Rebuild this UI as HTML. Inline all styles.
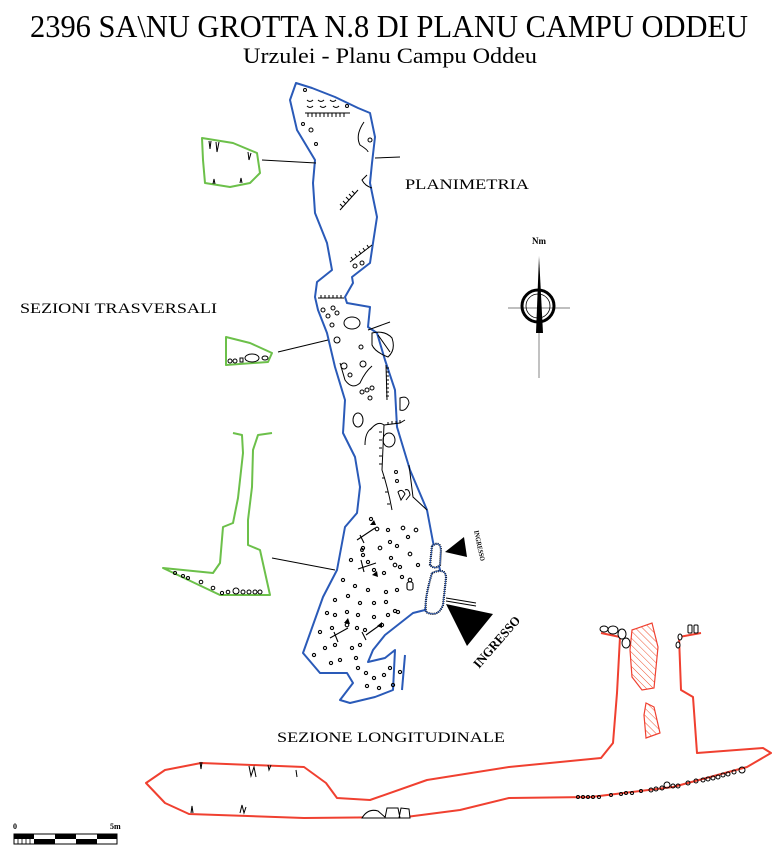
<!DOCTYPE html>
<html><head><meta charset="utf-8"><style>
html,body{margin:0;padding:0;background:#fff;}
svg{display:block;}
text{font-family:"Liberation Serif",serif;fill:#000;}
</style></head><body>
<svg width="784" height="858" viewBox="0 0 784 858" xmlns="http://www.w3.org/2000/svg">
<defs>
<pattern id="hatch" width="5" height="5" patternUnits="userSpaceOnUse" patternTransform="rotate(-45)">
<line x1="0" y1="0" x2="0" y2="5" stroke="#e53" stroke-width="1"/>
</pattern>
</defs>
<text x="30" y="37" font-size="32" textLength="718" lengthAdjust="spacingAndGlyphs">2396 SA\NU GROTTA N.8 DI PLANU CAMPU ODDEU</text>
<text x="243" y="63" font-size="22" textLength="294" lengthAdjust="spacingAndGlyphs">Urzulei - Planu Campu Oddeu</text>
<text x="405" y="189" font-size="15" textLength="124" lengthAdjust="spacingAndGlyphs">PLANIMETRIA</text>
<text x="20" y="313" font-size="15" textLength="197" lengthAdjust="spacingAndGlyphs">SEZIONI TRASVERSALI</text>
<text x="277" y="742" font-size="15" textLength="228" lengthAdjust="spacingAndGlyphs">SEZIONE LONGITUDINALE</text>

<path d="M296,83 L312,88 L335,97 L358,108 L370,113 L375,137 L372,163 L370,183 L377,217 L373,243 L370,263 L352,277 L353,283 L345,297 L347,303 L370,307 L368,327 L377,333 L385,360 L395,390 L397,427 L410,470 L427,510 L433,542 L440,570 L433,580 L425,610 L413,613 L385,635 L373,650 L368,662 L385,658 L395,650 L393,690 L375,697 L350,703 L340,700 L353,683 L347,673 L320,673 L303,653 L323,597 L337,570 L345,527 L357,513 L360,487 L355,457 L343,433 L345,400 L335,367 L327,333 L318,310 L315,297 L317,282 L332,270 L327,243 L315,213 L313,183 L315,160 L297,130 L290,100 Z" fill="none" stroke="#2a5ab8" stroke-width="2" stroke-linejoin="round"/>
<path d="M405,655 L402,690" stroke="#2a5ab8" stroke-width="2" fill="none"/>
<g fill="none" stroke="#000" stroke-width="1">
<path d="M305,113 L350,113"/><path d="M308,113 v4 M312,113 v4 M316,113 v4 M320,113 v4 M324,113 v4 M328,113 v4 M332,113 v4 M336,113 v4 M340,113 v4 M344,113 v4"/>
<path d="M307,100 q3,3 6,0 M318,100 q3,3 6,0 M330,100 q3,3 6,0 M307,106 q3,3 6,0 M320,106 q3,3 6,0 M333,106 q3,3 6,0"/>
<circle cx="305" cy="90" r="1.5"/><circle cx="303" cy="124" r="1.5"/><circle cx="311" cy="130" r="2"/><circle cx="316" cy="144" r="1.5"/><circle cx="347" cy="106" r="1.5"/>
<path d="M364,122 Q355,135 360,145 Q368,150 368,152"/><circle cx="370" cy="140" r="2"/>
<path d="M367,175 L362,180 Q365,186 372,188"/>
<path d="M340,210 L358,190"/><path d="M343,207 l-3,-3 M346,204 l-3,-3 M349,200 l-3,-3 M352,197 l-3,-3 M355,194 l-3,-3"/>
<path d="M350,262 L372,245"/><path d="M353,260 l-2,-3 M357,257 l-2,-3 M361,254 l-2,-3 M365,251 l-2,-3 M369,248 l-2,-3"/>
<circle cx="355" cy="266" r="2"/><circle cx="362" cy="263" r="2"/>
<path d="M318,298 L344,298"/><path d="M321,298 v-3 M325,298 v-3 M329,298 v-3 M333,298 v-3 M337,298 v-3 M341,298 v-3"/>
<ellipse cx="352" cy="323" rx="8" ry="6"/><circle cx="323" cy="310" r="2"/><circle cx="333" cy="308" r="2"/><circle cx="337" cy="313" r="2"/><circle cx="328" cy="316" r="2"/><circle cx="332" cy="325" r="2"/><circle cx="337" cy="340" r="3"/><circle cx="361" cy="347" r="2"/>
<path d="M372,333 Q385,330 392,338 Q396,350 388,357 Q375,352 372,345 Z M378,335 L390,352"/>
<path d="M340,363 L345,380 Q352,390 360,383 Q365,372 372,366"/><circle cx="344" cy="366" r="3"/><circle cx="363" cy="364" r="3"/>
<circle cx="350" cy="375" r="2"/><circle cx="362" cy="392" r="2"/><circle cx="367" cy="390" r="2"/><circle cx="372" cy="388" r="2"/><circle cx="370" cy="398" r="2"/>
<path d="M386,365 L387,400"/><path d="M386,368 h3 M386,372 h3 M386,376 h3 M386,380 h3 M386,384 h3 M386,388 h3 M386,392 h3 M386,396 h3"/>
<path d="M400,398 Q408,395 409,403 Q406,412 400,410 Z"/>
<ellipse cx="358" cy="420" rx="5" ry="7"/>
<path d="M370,430 Q378,420 384,425 L382,470 Q388,488 392,510"/><path d="M372,428 Q365,432 365,445"/>
<path d="M382,432 h-3 M382,440 h-3 M382,448 h-3 M382,456 h-3 M382,464 h-3 M385,478 h-3 M388,492 h-3 M390,504 h-3"/>
<path d="M384,425 L400,423 L405,420"/><path d="M388,425 v-3 M392,424 v-3 M396,424 v-3 M400,423 v-3"/>
<ellipse cx="389" cy="440" rx="6" ry="7"/>
<path d="M409,465 L413,497 L427,510"/>
<path d="M398,492 Q402,488 405,494 L401,500 Z M405,490 Q409,488 410,495 L406,500"/>
<circle cx="396" cy="472" r="1.5"/><circle cx="397" cy="481" r="1.5"/>
</g>
<g fill="none" stroke="#000" stroke-width="1.1">
<circle cx="371" cy="519" r="1.6"/><circle cx="377" cy="529" r="1.8"/><circle cx="388" cy="530" r="1.6"/><circle cx="403" cy="528" r="1.8"/><circle cx="416" cy="530" r="1.8"/><circle cx="390" cy="542" r="1.6"/><circle cx="408" cy="537" r="1.6"/><circle cx="363" cy="548" r="1.6"/><circle cx="362" cy="550" r="1.4"/><circle cx="363" cy="555" r="1.6"/><circle cx="380" cy="548" r="1.8"/><circle cx="397" cy="546" r="1.6"/><circle cx="410" cy="554" r="1.8"/><circle cx="351" cy="560" r="1.6"/><circle cx="368" cy="562" r="1.6"/><circle cx="391" cy="558" r="1.6"/><circle cx="395" cy="565" r="1.8"/><circle cx="400" cy="567" r="1.6"/><circle cx="418" cy="565" r="1.6"/><circle cx="384" cy="573" r="1.6"/><circle cx="402" cy="577" r="1.6"/><circle cx="410" cy="580" r="1.8"/><circle cx="343" cy="580" r="1.6"/><circle cx="355" cy="586" r="1.6"/><circle cx="368" cy="590" r="1.6"/><circle cx="386" cy="592" r="1.6"/><circle cx="397" cy="590" r="1.6"/><circle cx="348" cy="596" r="1.6"/><circle cx="360" cy="603" r="1.6"/><circle cx="374" cy="603" r="1.6"/><circle cx="386" cy="602" r="1.6"/><circle cx="395" cy="611" r="1.6"/><circle cx="347" cy="612" r="1.6"/><circle cx="358" cy="615" r="1.6"/><circle cx="374" cy="617" r="1.6"/><circle cx="388" cy="615" r="1.6"/><circle cx="398" cy="612" r="1.6"/><circle cx="327" cy="613" r="1.6"/><circle cx="335" cy="615" r="1.6"/><circle cx="320" cy="632" r="1.6"/><circle cx="332" cy="628" r="1.6"/><circle cx="347" cy="625" r="1.8"/><circle cx="357" cy="628" r="1.6"/><circle cx="365" cy="630" r="1.6"/><circle cx="382" cy="625" r="1.6"/><circle cx="314" cy="655" r="1.6"/><circle cx="325" cy="648" r="1.6"/><circle cx="335" cy="645" r="1.6"/><circle cx="352" cy="648" r="1.6"/><circle cx="360" cy="645" r="1.6"/><circle cx="331" cy="663" r="1.6"/><circle cx="340" cy="660" r="1.6"/><circle cx="356" cy="658" r="1.6"/><circle cx="358" cy="668" r="1.6"/><circle cx="366" cy="673" r="1.6"/><circle cx="374" cy="678" r="1.6"/><circle cx="384" cy="675" r="1.6"/><circle cx="390" cy="668" r="1.6"/><circle cx="367" cy="686" r="1.6"/><circle cx="379" cy="688" r="1.6"/><circle cx="393" cy="685" r="1.6"/><circle cx="400" cy="672" r="1.6"/><circle cx="374" cy="570" r="1.6"/><circle cx="335" cy="600" r="1.6"/>
<rect x="407" y="582" width="6" height="8" rx="2"/>
<path d="M357,540 l18,-12 M360,535 l4,8 M358,569 l18,-6 M361,560 l3,12 M330,638 l18,-10 M334,632 l4,10 M366,635 l14,-10 M362,632 l4,8"/>
</g>
<path d="M376,525 l-6,0 l4,-5 z M378,577 l-6,-2 l5,-4 z M350,624 l-6,-1 l4,-5 z M382,628 l-5,-2 l5,-4 z" fill="#000"/>
<path d="M432,546 Q440,540 441,550 L440,565 Q435,570 430,565 Z" fill="#fff" stroke="#000" stroke-width="2.2" stroke-dasharray="1 1"/>
<path d="M432,573 Q446,567 446,578 L443,605 Q438,618 426,612 Q424,600 432,573 Z" fill="#fff" stroke="#000" stroke-width="2.2" stroke-dasharray="1 1"/>
<path d="M432,546 Q440,540 441,550 L440,565 Q435,570 430,565 Z M432,573 Q446,567 446,578 L443,605 Q438,618 426,612 Q424,600 432,573 Z" fill="none" stroke="#2a5ab8" stroke-width="0.8"/>
<polygon points="445,552 464,537 467,557" fill="#000"/>
<polygon points="446,604 493,614 467,646" fill="#000"/>
<path d="M446,598 L476,603 M446,601 L476,606" stroke="#000" stroke-width="1"/>
<text x="0" y="0" font-size="7" font-weight="bold" transform="translate(474,531) rotate(78)" textLength="31" lengthAdjust="spacingAndGlyphs">INGRESSO</text>
<text x="0" y="0" font-size="13" font-weight="bold" transform="translate(479,669) rotate(-49)" textLength="64" lengthAdjust="spacingAndGlyphs">INGRESSO</text>

<g stroke="#000" stroke-width="1">
<line x1="262" y1="160" x2="316" y2="163"/><line x1="375" y1="158" x2="400" y2="157"/>
<line x1="278" y1="352" x2="328" y2="340"/><line x1="368" y1="330" x2="390" y2="322"/>
<line x1="272" y1="558" x2="335" y2="570"/>
</g>
<g fill="none" stroke="#6cc04a" stroke-width="2" stroke-linejoin="round">
<path d="M202,138 L233,143 L257,153 L260,173 L250,183 L230,187 L205,183 L203,160 Z"/>
<path d="M226,337 L250,343 L272,353 L268,362 L226,365 Z"/>
<path d="M233,433 L242,435 L243,453 L238,498 L233,523 L223,527 L220,563 L213,573 L163,568 L220,595 L270,595 L260,550 L248,545 L248,520 L252,487 L253,450 L258,435 L272,433"/>
</g>
<g fill="none" stroke="#000" stroke-width="1">
<path d="M209,141 l1,8 l1,-8 M216,142 l1,10 l2,-10 M248,152 l1,8 l2,-7 M213,184 l1,-5 l1,5 M240,183 l1,-5 l1,5"/>
<ellipse cx="230" cy="361" rx="2" ry="2"/><ellipse cx="235" cy="361" rx="2" ry="2"/><rect x="240" y="358" width="3" height="4"/><ellipse cx="252" cy="358" rx="7" ry="4"/><ellipse cx="265" cy="358" rx="3" ry="2"/>
<circle cx="175" cy="573" r="1.5"/><circle cx="183" cy="576" r="1.5"/><circle cx="188" cy="578" r="1.5"/><circle cx="201" cy="582" r="1.8"/><circle cx="213" cy="588" r="1.8"/><circle cx="222" cy="593" r="1.6"/><circle cx="228" cy="592" r="1.8"/><circle cx="236" cy="591" r="3"/><circle cx="243" cy="592" r="2"/><circle cx="249" cy="592" r="2"/><circle cx="255" cy="592" r="2"/><circle cx="260" cy="592" r="2"/>
</g>

<path d="M601,633 L620,637 L617,693 L613,743 L601,758 L509,767 L427,780 L370,800 L337,798 L326,783 L304,767 L201,763 L165,770 L146,783 L165,803 L189,814 L304,818 L406,817 L460,810 L509,798 L591,797 L673,787 L747,767 L771,753 L763,748 L697,753 L693,697 L681,690 L679,637 L701,633" fill="none" stroke="#f04030" stroke-width="2" stroke-linejoin="round"/>
<path d="M632,630 L652,623 L658,647 L654,688 L642,690 L632,677 L630,650 Z" fill="url(#hatch)" stroke="#f04030" stroke-width="1.2"/>
<path d="M646,703 L654,707 L660,733 L646,738 L644,715 Z" fill="url(#hatch)" stroke="#f04030" stroke-width="1.2"/>
<g fill="#fff" stroke="#000" stroke-width="1">
<ellipse cx="604" cy="629" rx="4" ry="3"/><ellipse cx="613" cy="630" rx="5" ry="4"/><ellipse cx="622" cy="634" rx="4" ry="5"/><ellipse cx="626" cy="643" rx="4" ry="5"/>
<ellipse cx="680" cy="637" rx="2" ry="3"/><ellipse cx="678" cy="645" rx="2" ry="3"/><rect x="688" y="625" width="4" height="8" rx="1"/><rect x="694" y="625" width="4" height="8" rx="1"/>
<path d="M362,818 Q368,808 378,811 L386,818 Z M385,818 L387,808 L398,808 L400,818 Z M399,818 L401,808 L409,809 L410,818 Z"/>
</g>
<g fill="none" stroke="#000" stroke-width="1">
<path d="M200,762 l1,7 l1,-7 M249,766 l2,10 l3,-9 l2,10 M268,765 l1,5 l2,-5 M296,770 l1,7 M191,813 l1,-7 l1,7 M240,813 l2,-8 l2,8 l2,-6"/>
<circle cx="578" cy="797" r="1.5"/><circle cx="583" cy="797" r="1.5"/><circle cx="588" cy="797" r="1.5"/><circle cx="593" cy="797" r="1.5"/><circle cx="599" cy="797" r="1.5"/><circle cx="611" cy="795" r="1.5"/><circle cx="621" cy="794" r="1.5"/><circle cx="626" cy="793" r="1.5"/><circle cx="632" cy="793" r="1.5"/><circle cx="641" cy="791" r="1.5"/><circle cx="651" cy="790" r="2"/><circle cx="656" cy="789" r="2"/><circle cx="662" cy="788" r="2"/><circle cx="667" cy="785" r="3"/><circle cx="673" cy="786" r="2"/><circle cx="678" cy="786" r="2"/><circle cx="688" cy="783" r="2"/><circle cx="696" cy="781" r="2"/><circle cx="703" cy="780" r="2"/><circle cx="708" cy="779" r="2"/><circle cx="713" cy="778" r="2"/><circle cx="718" cy="777" r="2"/><circle cx="723" cy="775" r="2"/><circle cx="728" cy="774" r="2"/><circle cx="734" cy="772" r="2"/><circle cx="742" cy="770" r="3"/>
</g>

<text x="539" y="244" font-size="9" font-weight="bold" text-anchor="middle">Nm</text>
<line x1="508" y1="308" x2="570" y2="308" stroke="#999" stroke-width="1.2"/>
<line x1="539" y1="330" x2="539" y2="378" stroke="#999" stroke-width="1.2"/>
<circle cx="538" cy="306" r="16" fill="none" stroke="#000" stroke-width="3"/>
<circle cx="538" cy="306" r="12" fill="none" stroke="#000" stroke-width="0.8"/>
<polygon points="539,256 543,333 536,333" fill="#000"/>

<text x="13" y="829" font-size="8" font-weight="bold">0</text>
<text x="110" y="829" font-size="8" font-weight="bold">5m</text>
<rect x="14" y="834" width="103" height="10" fill="#fff" stroke="#000" stroke-width="1"/>
<rect x="14" y="834" width="20" height="5" fill="#000"/>
<rect x="34" y="839" width="21" height="5" fill="#000"/><rect x="55" y="834" width="21" height="5" fill="#000"/><rect x="76" y="839" width="21" height="5" fill="#000"/><rect x="97" y="834" width="20" height="5" fill="#000"/>
<path d="M18,839v5 M22,839v5 M26,839v5 M30,839v5" stroke="#000" stroke-width="0.8"/>
</svg>
</body></html>
